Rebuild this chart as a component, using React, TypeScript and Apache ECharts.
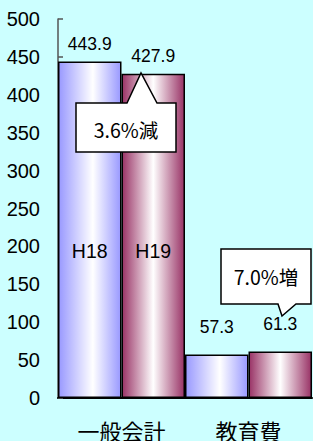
import React, { useEffect, useRef } from "react";
import * as echarts from "echarts";

const categories = ["一般会計", "教育費"];
const seriesNames = ["H18", "H19"];
const valuesH18 = [443.9, 57.3];
const valuesH19 = [427.9, 61.3];
const yTicks = { min: 0, max: 500, interval: 50 };
const callouts = ["3.6%減", "7.0%増"];

const NUM_FONT = "'Liberation Sans', Arial, sans-serif";
const CJK_FONT = "'Noto Sans CJK JP', sans-serif";

function grad(edge: string, mid: number) {
  return new echarts.graphic.LinearGradient(0, 0, 1, 0, [
    { offset: 0, color: edge },
    { offset: mid, color: "#FFFFFF" },
    { offset: 1, color: edge },
  ]);
}

export default function App() {
  const ref = useRef<HTMLDivElement>(null);
  useEffect(() => {
    if (!ref.current) return;
    const chart = echarts.init(ref.current, undefined, { renderer: "svg" });
    const mkData = (vals: number[]) =>
      vals.map((v, i) => ({
        value: v,
        label: { distance: i === 0 ? 9 : 19 },
      }));
    const valueLabel = {
      show: true,
      position: "top",
      color: "#000",
      fontSize: 17.5,
      fontFamily: NUM_FONT,
    };
    const nameMark = (name: string) => ({
      symbol: "rect",
      symbolSize: 1,
      itemStyle: { color: "rgba(0,0,0,0)" },
      label: {
        show: true,
        position: "inside",
        formatter: name,
        color: "#000",
        fontSize: 19.5,
        fontFamily: NUM_FONT,
      },
      data: [{ coord: [categories[0], 194], value: name }],
    });
    chart.setOption({
      animation: false,
      backgroundColor: "#CCFFFF",
      grid: { left: 58, right: 1, top: 19, bottom: 41 },
      xAxis: {
        type: "category",
        data: categories,
        axisLine: { lineStyle: { color: "#000", width: 2 } },
        axisTick: { show: false },
        axisLabel: {
          color: "#000",
          fontSize: 22,
          fontFamily: CJK_FONT,
          margin: 21,
        },
      },
      yAxis: {
        type: "value",
        min: yTicks.min,
        max: yTicks.max,
        interval: yTicks.interval,
        splitLine: { show: false },
        axisLine: { show: true, lineStyle: { color: "#555", width: 1.5 } },
        axisTick: {
          show: true,
          inside: true,
          length: 5,
          lineStyle: { color: "#555", width: 1.5 },
        },
        axisLabel: {
          color: "#000",
          fontSize: 20,
          fontFamily: NUM_FONT,
          margin: 18,
          padding: [4, 0, 0, 0],
        },
      },
      series: [
        {
          name: seriesNames[0],
          type: "bar",
          data: mkData(valuesH18),
          barGap: "0%",
          barCategoryGap: "0%",
          itemStyle: {
            color: grad("#9999FF", 0.55),
            borderColor: "#000",
            borderWidth: 1.5,
          },
          label: valueLabel,
          markPoint: nameMark(seriesNames[0]),
        },
        {
          name: seriesNames[1],
          type: "bar",
          data: mkData(valuesH19),
          barGap: "0%",
          barCategoryGap: "0%",
          itemStyle: {
            color: grad("#993366", 0.5),
            borderColor: "#000",
            borderWidth: 1.5,
          },
          label: valueLabel,
          markPoint: nameMark(seriesNames[1]),
        },
      ],
      graphic: [
        {
          type: "polygon",
          shape: {
            points: [
              [76, 103],
              [127, 103],
              [141, 73],
              [157, 103],
              [176, 103],
              [176, 152],
              [76, 152],
            ],
          },
          style: { fill: "#fff", stroke: "#000", lineWidth: 1.5 },
          z: 100,
        },
        {
          type: "text",
          x: 126,
          y: 129,
          style: {
            text: callouts[0],
            fill: "#000",
            fontSize: 19.5,
            fontFamily: CJK_FONT,
            align: "center",
            verticalAlign: "middle",
          },
          z: 101,
        },
        {
          type: "polygon",
          shape: {
            points: [
              [221, 249],
              [311, 249],
              [311, 304],
              [296, 304],
              [282, 316],
              [278, 304],
              [221, 304],
            ],
          },
          style: { fill: "#fff", stroke: "#000", lineWidth: 1.5 },
          z: 100,
        },
        {
          type: "text",
          x: 266,
          y: 276,
          style: {
            text: callouts[1],
            fill: "#000",
            fontSize: 19.5,
            fontFamily: CJK_FONT,
            align: "center",
            verticalAlign: "middle",
          },
          z: 101,
        },
      ],
    });
    return () => chart.dispose();
  }, []);
  return (
    <div
      ref={ref}
      style={{ position: "fixed", left: 0, top: 0, width: 313, height: 441 }}
    />
  );
}
